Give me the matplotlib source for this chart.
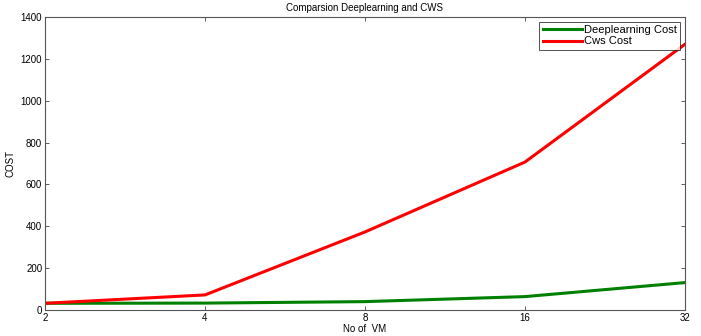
import matplotlib
matplotlib.use("Agg")
import matplotlib.pyplot as plt

vm_labels = ["2", "4", "8", "16", "32"]
deep_cost = [32, 33, 40, 64, 131]
cws_cost = [32, 72, 373, 707, 1270]
y_ticks = [0, 200, 400, 600, 800, 1000, 1200, 1400]

plt.rcParams['font.family'] = ['Liberation Sans', 'DejaVu Sans']
fig = plt.figure(figsize=(7.01, 3.36), dpi=100)
ax = fig.add_axes([45/701, 1-310/336, 640/701, 293/336])
x = list(range(len(vm_labels)))
ax.plot(x, deep_cost, color=(0, 0.5, 0), lw=2.2, label="Deeplearning Cost")
ax.plot(x, cws_cost, color=(1, 0, 0), lw=2.2, label="Cws Cost")
ax.set_xlim(0, len(vm_labels)-1)
ax.set_ylim(0, 1400)
ax.set_xticks(x)
ax.set_xticklabels(vm_labels)
ax.set_yticks(y_ticks)
ax.tick_params(direction='in', top=True, right=True, labelsize=7, length=3, width=0.6, color='#444444', pad=2)
for s in ax.spines.values():
    s.set_linewidth(0.8)
    s.set_color('#555555')
ax.set_title("Comparsion Deeplearning and CWS", fontsize=7, pad=4)
ax.set_xlabel("No of  VM", fontsize=7, labelpad=1)
ax.set_ylabel("COST", fontsize=7, labelpad=4)
leg = ax.legend(loc='upper right', fontsize=8, frameon=True, fancybox=False,
                edgecolor='black', handlelength=3.5, borderpad=0.3, labelspacing=0.1,
                handletextpad=0.2, borderaxespad=0.45)
leg.get_frame().set_linewidth(0.6)
fig.savefig("out.png", dpi=100)
